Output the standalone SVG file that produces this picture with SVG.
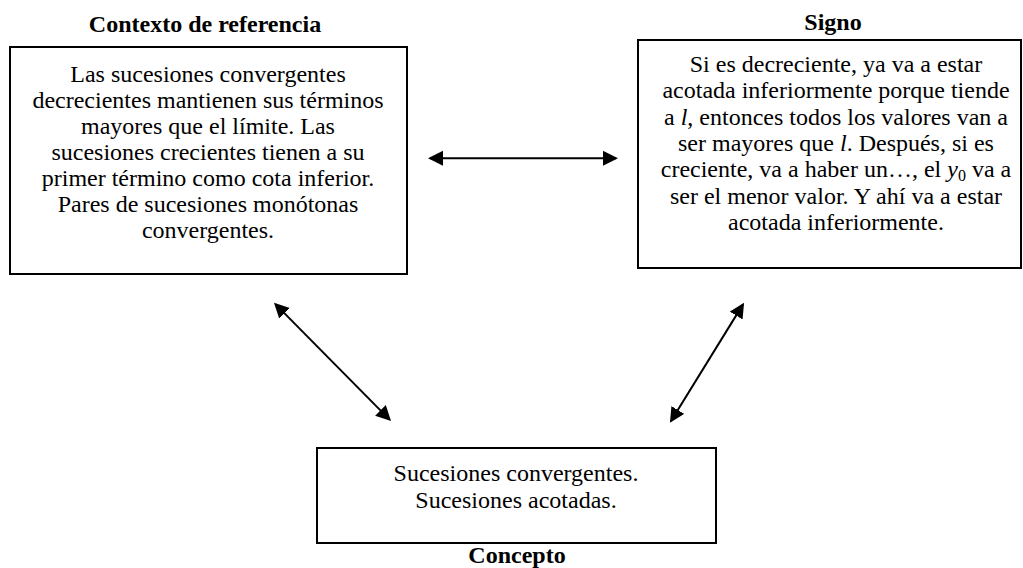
<svg xmlns="http://www.w3.org/2000/svg" width="1023" height="568" viewBox="0 0 1023 568">
<style>
text{font-family:"Liberation Serif","Times New Roman",serif;fill:#000;}
.t{font-size:24px;text-anchor:middle;}
.h{font-size:24px;font-weight:bold;text-anchor:middle;}
.box{fill:#fff;stroke:#000;stroke-width:2;}
.c{stroke:#000;stroke-width:2;fill:none;marker-start:url(#ah);marker-end:url(#ah);}
.i{font-style:italic;}
</style>
<defs>
<marker id="ah" markerUnits="userSpaceOnUse" markerWidth="16" markerHeight="16" refX="13" refY="7.5" orient="auto-start-reverse">
<path d="M0,0 L15,7.5 L0,15 Z" fill="#000"/>
</marker>
</defs>
<rect width="1023" height="568" fill="#fff"/>
<g id="connectors">
<line class="c" x1="430" y1="158.3" x2="616" y2="158.3"/>
<line class="c" x1="275.4" y1="304.1" x2="389.6" y2="419.6"/>
<line class="c" x1="743" y1="304.4" x2="671" y2="421"/>
</g>
<g id="contexto">
<text class="h" x="205" y="31.5">Contexto de referencia</text>
<rect class="box" x="10" y="47" width="397" height="227"/>
<text class="t" x="208" y="82">Las sucesiones convergentes</text>
<text class="t" x="208" y="108">decrecientes mantienen sus términos</text>
<text class="t" x="208" y="134">mayores que el límite. Las</text>
<text class="t" x="208" y="160">sucesiones crecientes tienen a su</text>
<text class="t" x="208" y="186">primer término como cota inferior.</text>
<text class="t" x="208" y="212">Pares de sucesiones monótonas</text>
<text class="t" x="208" y="238">convergentes.</text>
</g>
<g id="signo">
<text class="h" x="833" y="29.5">Signo</text>
<rect class="box" x="638" y="40" width="383" height="228"/>
<text class="t" x="836" y="72">Si es decreciente, ya va a estar</text>
<text class="t" x="836" y="98.3">acotada inferiormente porque tiende</text>
<text class="t" x="836" y="124.6">a <tspan class="i">l</tspan>, entonces todos los valores van a</text>
<text class="t" x="836" y="150.9">ser mayores que <tspan class="i">l</tspan>. Después, si es</text>
<text class="t" x="836" y="177.2">creciente, va a haber un…, el <tspan class="i">y</tspan><tspan font-size="16" dy="4">0</tspan><tspan dy="-4"> va a</tspan></text>
<text class="t" x="836" y="203.5">ser el menor valor. Y ahí va a estar</text>
<text class="t" x="836" y="229.8">acotada inferiormente.</text>
</g>
<g id="concepto">
<rect class="box" x="317" y="448" width="399" height="95"/>
<text class="t" x="516" y="481">Sucesiones convergentes.</text>
<text class="t" x="516" y="508">Sucesiones acotadas.</text>
<text class="h" x="517" y="563">Concepto</text>
</g>
</svg>
